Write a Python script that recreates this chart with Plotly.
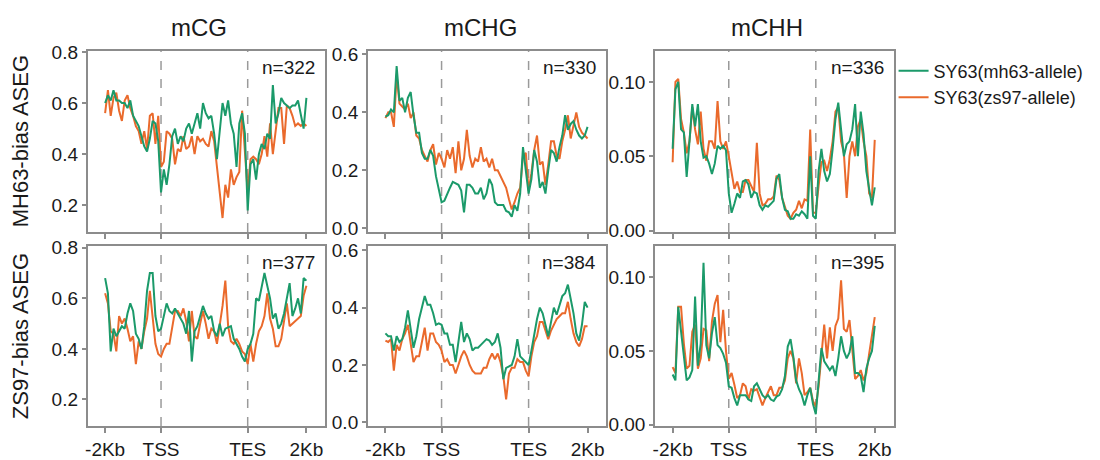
import plotly.graph_objects as go

# ---------------- data ----------------
bins = list(range(73))                      # 20 upstream, 31 gene-body, 21 downstream bins
tick_vals = [0, 20, 51, 72]
tick_text = ["-2Kb", "TSS", "TES", "2Kb"]
contexts = ["mCG", "mCHG", "mCHH"]
groups = ["MH63-bias ASEG", "ZS97-bias ASEG"]
n_counts = [322, 330, 336, 377, 384, 395]
series_names = ["SY63(mh63-allele)", "SY63(zs97-allele)"]

mh63bias_mCG_mh63 = [0.60,0.63,0.61,0.65,0.61,0.61,0.60,0.60,0.58,0.61,
                     0.55,0.53,0.51,0.47,0.43,0.41,0.46,0.53,0.52,0.45,
                     0.25,0.34,0.28,0.36,0.47,0.50,0.44,0.47,0.45,0.50,
                     0.52,0.48,0.52,0.56,0.50,0.60,0.56,0.54,0.55,0.48,
                     0.38,0.50,0.60,0.55,0.61,0.52,0.48,0.35,0.52,0.56,
                     0.48,0.18,0.36,0.38,0.30,0.40,0.44,0.42,0.48,0.46,
                     0.67,0.52,0.56,0.62,0.60,0.59,0.58,0.59,0.59,0.61,
                     0.55,0.50,0.62]
mh63bias_mCG_zs97 = [0.56,0.65,0.55,0.62,0.64,0.57,0.53,0.61,0.63,0.58,
                     0.55,0.51,0.49,0.44,0.49,0.42,0.55,0.56,0.44,0.55,
                     0.35,0.37,0.49,0.48,0.46,0.36,0.42,0.41,0.47,0.42,
                     0.43,0.47,0.40,0.47,0.45,0.46,0.44,0.43,0.49,0.45,
                     0.35,0.25,0.15,0.28,0.23,0.34,0.28,0.31,0.33,0.57,
                     0.39,0.25,0.38,0.39,0.38,0.36,0.40,0.47,0.39,0.52,
                     0.40,0.49,0.58,0.58,0.44,0.59,0.58,0.55,0.51,0.52,
                     0.51,0.52,0.51]
mh63bias_mCHG_mh63 = [0.385,0.39,0.41,0.40,0.56,0.44,0.45,0.40,0.45,0.47,
                      0.39,0.33,0.33,0.26,0.24,0.24,0.27,0.25,0.18,0.14,
                      0.09,0.095,0.12,0.14,0.16,0.155,0.15,0.13,0.055,0.15,
                      0.15,0.14,0.12,0.12,0.14,0.10,0.12,0.17,0.15,0.09,
                      0.08,0.08,0.08,0.06,0.055,0.04,0.08,0.06,0.12,0.28,
                      0.20,0.12,0.17,0.27,0.23,0.14,0.16,0.12,0.20,0.27,
                      0.26,0.23,0.28,0.32,0.39,0.34,0.36,0.37,0.34,0.32,
                      0.31,0.32,0.35]
mh63bias_mCHG_zs97 = [0.38,0.40,0.40,0.35,0.53,0.43,0.42,0.41,0.43,0.38,
                      0.40,0.32,0.31,0.27,0.25,0.23,0.27,0.29,0.22,0.26,
                      0.24,0.21,0.27,0.24,0.28,0.19,0.30,0.20,0.24,0.34,
                      0.25,0.21,0.24,0.23,0.28,0.23,0.24,0.21,0.24,0.20,
                      0.20,0.18,0.16,0.14,0.10,0.065,0.09,0.12,0.14,0.25,
                      0.26,0.13,0.19,0.27,0.32,0.22,0.23,0.15,0.22,0.30,
                      0.30,0.25,0.24,0.30,0.34,0.39,0.31,0.36,0.40,0.35,
                      0.33,0.32,0.31]
mh63bias_mCHH_mh63 = [0.055,0.095,0.100,0.068,0.066,0.036,0.060,0.085,0.070,0.085,
                      0.060,0.049,0.050,0.045,0.038,0.045,0.057,0.055,0.057,0.054,
                      0.025,0.012,0.018,0.025,0.022,0.033,0.034,0.031,0.022,0.026,
                      0.025,0.017,0.014,0.017,0.016,0.018,0.020,0.035,0.038,0.022,
                      0.014,0.013,0.008,0.008,0.011,0.010,0.013,0.011,0.008,0.050,
                      0.010,0.008,0.040,0.055,0.040,0.033,0.038,0.055,0.075,0.086,
                      0.070,0.050,0.058,0.060,0.068,0.085,0.050,0.080,0.065,0.040,
                      0.028,0.017,0.029]
mh63bias_mCHH_zs97 = [0.046,0.100,0.102,0.075,0.066,0.052,0.060,0.083,0.068,0.058,
                      0.080,0.055,0.047,0.060,0.060,0.055,0.087,0.060,0.055,0.060,
                      0.050,0.040,0.028,0.033,0.026,0.026,0.034,0.034,0.030,0.026,
                      0.059,0.025,0.017,0.018,0.021,0.021,0.023,0.037,0.034,0.022,
                      0.016,0.010,0.008,0.012,0.014,0.020,0.015,0.021,0.020,0.068,
                      0.012,0.012,0.030,0.046,0.047,0.040,0.048,0.060,0.080,0.083,
                      0.060,0.052,0.022,0.050,0.060,0.050,0.070,0.075,0.060,0.050,
                      0.025,0.022,0.061]
zs97bias_mCG_mh63 = [0.68,0.62,0.39,0.48,0.45,0.47,0.49,0.48,0.54,0.58,
                     0.55,0.46,0.44,0.40,0.49,0.63,0.70,0.70,0.53,0.47,
                     0.48,0.53,0.58,0.55,0.54,0.56,0.54,0.52,0.50,0.46,
                     0.55,0.35,0.47,0.49,0.53,0.57,0.54,0.52,0.53,0.47,
                     0.45,0.50,0.45,0.48,0.485,0.49,0.44,0.42,0.40,0.37,
                     0.35,0.40,0.42,0.46,0.60,0.59,0.65,0.70,0.65,0.60,
                     0.52,0.54,0.48,0.50,0.54,0.60,0.66,0.53,0.56,0.60,
                     0.54,0.68,0.67]
zs97bias_mCG_zs97 = [0.62,0.58,0.47,0.46,0.39,0.53,0.50,0.52,0.48,0.43,
                     0.45,0.34,0.43,0.40,0.47,0.52,0.63,0.53,0.42,0.38,
                     0.37,0.40,0.42,0.42,0.49,0.55,0.55,0.53,0.56,0.51,
                     0.43,0.55,0.45,0.44,0.50,0.55,0.50,0.44,0.48,0.47,
                     0.42,0.49,0.57,0.67,0.49,0.43,0.42,0.44,0.42,0.39,
                     0.38,0.34,0.42,0.35,0.42,0.47,0.49,0.53,0.62,0.52,
                     0.48,0.41,0.41,0.44,0.51,0.58,0.49,0.50,0.51,0.52,
                     0.53,0.61,0.65]
zs97bias_mCHG_mh63 = [0.31,0.30,0.30,0.25,0.30,0.28,0.29,0.33,0.39,0.33,
                      0.26,0.30,0.36,0.40,0.44,0.41,0.41,0.38,0.34,0.345,
                      0.34,0.31,0.31,0.27,0.27,0.21,0.29,0.35,0.28,0.31,
                      0.29,0.25,0.26,0.26,0.27,0.28,0.29,0.285,0.27,0.28,
                      0.31,0.26,0.15,0.19,0.195,0.20,0.23,0.29,0.23,0.22,
                      0.21,0.20,0.25,0.31,0.36,0.40,0.38,0.34,0.30,0.35,
                      0.40,0.375,0.41,0.44,0.45,0.48,0.43,0.38,0.31,0.285,
                      0.34,0.42,0.40]
zs97bias_mCHG_zs97 = [0.285,0.28,0.29,0.18,0.27,0.25,0.29,0.31,0.34,0.28,
                      0.21,0.23,0.23,0.28,0.33,0.25,0.31,0.31,0.28,0.27,
                      0.25,0.21,0.22,0.20,0.20,0.17,0.20,0.23,0.25,0.23,
                      0.20,0.18,0.17,0.17,0.17,0.19,0.19,0.22,0.24,0.22,
                      0.24,0.21,0.16,0.08,0.17,0.19,0.19,0.22,0.21,0.21,
                      0.18,0.16,0.23,0.28,0.30,0.35,0.35,0.32,0.29,0.32,
                      0.34,0.36,0.37,0.38,0.38,0.42,0.36,0.31,0.28,0.265,
                      0.29,0.335,0.335]
zs97bias_mCHH_mh63 = [0.034,0.030,0.080,0.063,0.045,0.030,0.032,0.037,0.087,0.040,
                      0.055,0.110,0.054,0.045,0.062,0.073,0.054,0.052,0.048,0.042,
                      0.026,0.025,0.018,0.013,0.020,0.020,0.020,0.017,0.016,0.026,
                      0.028,0.024,0.020,0.018,0.020,0.017,0.016,0.019,0.020,0.024,
                      0.033,0.053,0.058,0.046,0.030,0.024,0.020,0.013,0.020,0.025,
                      0.014,0.007,0.030,0.052,0.043,0.040,0.037,0.040,0.033,0.045,
                      0.060,0.050,0.045,0.049,0.060,0.035,0.035,0.033,0.022,0.038,
                      0.045,0.050,0.067]
zs97bias_mCHH_zs97 = [0.039,0.035,0.080,0.080,0.055,0.038,0.040,0.063,0.068,0.038,
                      0.045,0.065,0.064,0.043,0.070,0.082,0.088,0.056,0.078,0.050,
                      0.031,0.035,0.027,0.018,0.020,0.028,0.026,0.017,0.024,0.023,
                      0.024,0.018,0.013,0.018,0.022,0.026,0.020,0.020,0.025,0.025,
                      0.030,0.045,0.050,0.045,0.028,0.045,0.035,0.020,0.022,0.025,
                      0.016,0.012,0.026,0.047,0.068,0.045,0.066,0.050,0.067,0.072,
                      0.098,0.065,0.063,0.071,0.051,0.031,0.033,0.037,0.030,0.035,
                      0.048,0.062,0.073]

panels = [
    (mh63bias_mCG_mh63, mh63bias_mCG_zs97),
    (mh63bias_mCHG_mh63, mh63bias_mCHG_zs97),
    (mh63bias_mCHH_mh63, mh63bias_mCHH_zs97),
    (zs97bias_mCG_mh63, zs97bias_mCG_zs97),
    (zs97bias_mCHG_mh63, zs97bias_mCHG_zs97),
    (zs97bias_mCHH_mh63, zs97bias_mCHH_zs97),
]

ytick_vals = {"mCG": [0.2, 0.4, 0.6, 0.8],
              "mCHG": [0.0, 0.2, 0.4, 0.6],
              "mCHH": [0.0, 0.05, 0.10]}
ytick_text = {"mCG": ["0.2", "0.4", "0.6", "0.8"],
              "mCHG": ["0.0", "0.2", "0.4", "0.6"],
              "mCHH": ["0.00", "0.05", "0.10"]}
y_ranges = {"mCG": [0.095, 0.805], "mCHG": [-0.013, 0.613], "mCHH": [-0.001, 0.121]}

# ---------------- style ----------------
# the page body adds an 8px offset, so the figure is 8px smaller and all
# positions below are screen positions minus 8
W, H = 1092, 452
GREEN = "#1b9a6a"
ORANGE = "#ea6a2c"
FRAME = "#8c8c8c"
TXT = "#1a1a1a"
FONT = "Liberation Sans, Arial, sans-serif"
col_px = [(77, 315), (358, 597), (646, 885)]
row_px = [(35, 224), (239, 426)]
x_range = [-6.2, 78.7]

fig = go.Figure()
layout = dict(
    width=W, height=H,
    margin=dict(l=0, r=0, t=0, b=0),
    paper_bgcolor="white", plot_bgcolor="white",
    font=dict(family=FONT, size=18, color=TXT),
    showlegend=True,
    legend=dict(x=885 / W, y=1 - 37 / H, xanchor="left", yanchor="top",
                font=dict(size=18, color=TXT), bgcolor="rgba(0,0,0,0)",
                itemwidth=30, tracegroupgap=0),
    shapes=[], annotations=[],
)

for k, (g_vals, o_vals) in enumerate(panels):
    r, c = divmod(k, 3)
    ctx = contexts[c]
    idx = k + 1
    xa = "x" if idx == 1 else f"x{idx}"
    ya = "y" if idx == 1 else f"y{idx}"
    x0, x1 = col_px[c]
    y0, y1 = row_px[r]
    layout[f"xaxis{idx}"] = dict(
        domain=[x0 / W, x1 / W], anchor=ya, range=x_range,
        tickmode="array", tickvals=tick_vals,
        ticktext=tick_text if r == 1 else [""] * 4,
        showticklabels=(r == 1),
        ticks="outside", ticklen=5, tickwidth=1.5, tickcolor=FRAME,
        showline=True, mirror=True, linecolor=FRAME, linewidth=2,
        showgrid=False, zeroline=False,
        tickfont=dict(size=19, color=TXT, family=FONT),
    )
    layout[f"yaxis{idx}"] = dict(
        domain=[1 - y1 / H, 1 - y0 / H], anchor=xa, range=y_ranges[ctx],
        tickmode="array", tickvals=ytick_vals[ctx], ticktext=ytick_text[ctx],
        ticks="outside", ticklen=4, tickwidth=1.5, tickcolor=FRAME,
        showline=True, mirror=True, linecolor=FRAME, linewidth=2,
        showgrid=False, zeroline=False,
        tickfont=dict(size=19, color=TXT, family=FONT),
    )
    # dashed TSS / TES markers
    for xv in (tick_vals[1], tick_vals[2]):
        layout["shapes"].append(dict(
            type="line", xref=xa, yref=f"{ya} domain", x0=xv, x1=xv, y0=0, y1=1,
            line=dict(color="#9a9a9a", width=1.5, dash="dash"), layer="below"))
    fig.add_trace(go.Scatter(x=bins, y=o_vals, mode="lines", name=series_names[1],
                             line=dict(color=ORANGE, width=2), xaxis=xa, yaxis=ya,
                             showlegend=(k == 0), legendrank=2))
    fig.add_trace(go.Scatter(x=bins, y=g_vals, mode="lines", name=series_names[0],
                             line=dict(color=GREEN, width=2), xaxis=xa, yaxis=ya,
                             showlegend=(k == 0), legendrank=1))
    layout["annotations"].append(dict(
        text=f"n={n_counts[k]}", xref=f"{xa} domain", yref=f"{ya} domain",
        x=1, y=1, xanchor="right", yanchor="top", xshift=-8, yshift=-4,
        showarrow=False, font=dict(size=19, color=TXT, family=FONT)))

# column titles
for c, ctx in enumerate(contexts):
    x0, x1 = col_px[c]
    layout["annotations"].append(dict(
        text=ctx, xref="paper", yref="paper", x=((x0 + x1) / 2 - 7) / W, y=1 - 11 / H,
        xanchor="center", yanchor="middle", showarrow=False,
        font=dict(size=24, color=TXT, family=FONT)))
# row titles
for r, grp in enumerate(groups):
    y0, y1 = row_px[r]
    layout["annotations"].append(dict(
        text=grp, xref="paper", yref="paper", x=9 / W, y=1 - ((y0 + y1) / 2) / H,
        xanchor="center", yanchor="middle", textangle=-90, showarrow=False,
        font=dict(size=22, color=TXT, family=FONT)))

fig.update_layout(**layout)
fig.write_html("out.html")
